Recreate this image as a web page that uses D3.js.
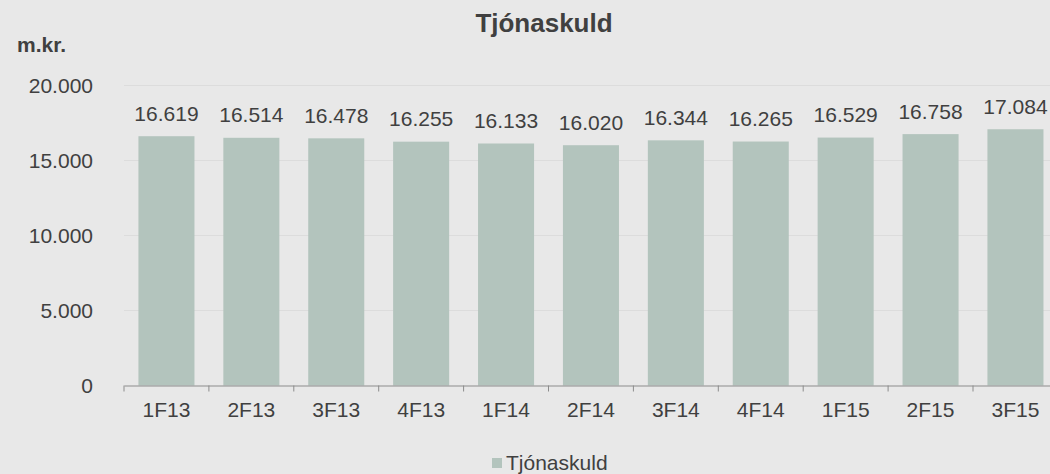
<!DOCTYPE html>
<html>
<head>
<meta charset="utf-8">
<script src="https://cdn.jsdelivr.net/npm/d3@7"></script>
<style>
  body { margin: 0; background: #e8e8e8; }
  svg { display: block; font-family: "Liberation Sans", Arial, sans-serif; }
</style>
</head>
<body>
<div id="chart"></div>
<script>
var quarters = ["1F13", "2F13", "3F13", "4F13", "1F14", "2F14", "3F14", "4F14", "1F15", "2F15", "3F15"];
var claims = [16619, 16514, 16478, 16255, 16133, 16020, 16344, 16265, 16529, 16758, 17084];
var yTicks = [0, 5000, 10000, 15000, 20000];
var seriesName = "Tjónaskuld";

function createChart() {
    var w = 1050;
    var h = 474;
    var left = 124;
    var step = 84.9;
    var textColor = "#404040";

    var fmt = function (v) {
        return d3.format(",")(v).replace(/,/g, ".");
    };

    var svg = d3.select("#chart")
        .append("svg")
        .attr("width", w)
        .attr("height", h);

    svg.append("rect")
        .attr("width", w)
        .attr("height", h)
        .attr("fill", "#e8e8e8");

    var xScale = d3.scaleBand()
        .domain(quarters)
        .range([left, left + step * quarters.length])
        .paddingInner(0.34)
        .paddingOuter(0.17);

    var yScale = d3.scaleLinear()
        .domain([0, 20000])
        .range([385.5, 85.5]);

    /* GRID */
    svg.append("g")
        .selectAll("line")
        .data(yTicks.slice(1))
        .enter()
        .append("line")
        .attr("x1", left)
        .attr("x2", w)
        .attr("y1", d => yScale(d))
        .attr("y2", d => yScale(d))
        .attr("stroke", "#dcdcdc")
        .attr("stroke-width", 1);

    /* BARS */
    svg.selectAll("rect.bar")
        .data(claims)
        .enter()
        .append("rect")
        .attr("class", "bar")
        .attr("x", (d, i) => xScale(quarters[i]))
        .attr("width", xScale.bandwidth())
        .attr("y", d => yScale(d))
        .attr("height", d => yScale(0) - yScale(d))
        .attr("fill", "#b3c4bd");

    /* VALUE LABELS */
    svg.selectAll("text.val")
        .data(claims)
        .enter()
        .append("text")
        .attr("class", "val")
        .attr("x", (d, i) => xScale(quarters[i]) + xScale.bandwidth() / 2)
        .attr("y", d => yScale(d) - 15.5)
        .attr("text-anchor", "middle")
        .attr("font-size", 21)
        .attr("fill", textColor)
        .text(d => fmt(d));

    /* X AXIS */
    var xAxis = d3.axisBottom(xScale).tickSize(0).tickPadding(0);
    var gx = svg.append("g")
        .attr("transform", "translate(0," + yScale(0) + ")")
        .call(xAxis);
    gx.select(".domain").attr("stroke", "#8c8c8c");
    gx.selectAll(".tick text")
        .attr("y", 31.5)
        .attr("dy", null)
        .attr("font-size", 21)
        .attr("font-family", "Liberation Sans, Arial, sans-serif")
        .attr("fill", textColor);
    gx.selectAll(".sep")
        .data(d3.range(quarters.length + 1))
        .enter()
        .append("line")
        .attr("class", "sep")
        .attr("x1", i => left + i * step)
        .attr("x2", i => left + i * step)
        .attr("y1", 0)
        .attr("y2", 6)
        .attr("stroke", "#8c8c8c");

    /* Y AXIS */
    var yAxis = d3.axisLeft(yScale)
        .tickValues(yTicks)
        .tickSize(0)
        .tickPadding(0)
        .tickFormat(fmt);
    var gy = svg.append("g")
        .attr("transform", "translate(93,0)")
        .call(yAxis);
    gy.select(".domain").remove();
    gy.selectAll("text")
        .attr("font-size", 21)
        .attr("font-family", "Liberation Sans, Arial, sans-serif")
        .attr("fill", textColor);

    /* TITLES */
    svg.append("text")
        .attr("x", 544)
        .attr("y", 32)
        .attr("text-anchor", "middle")
        .attr("font-size", 26)
        .attr("font-weight", "bold")
        .attr("fill", textColor)
        .text(seriesName);

    svg.append("text")
        .attr("x", 17)
        .attr("y", 51.5)
        .attr("font-size", 21)
        .attr("font-weight", "bold")
        .attr("fill", textColor)
        .text("m.kr.");

    /* LEGEND */
    svg.append("rect")
        .attr("x", 492)
        .attr("y", 458)
        .attr("width", 10)
        .attr("height", 10)
        .attr("fill", "#b3c4bd");
    svg.append("text")
        .attr("x", 506)
        .attr("y", 470)
        .attr("font-size", 21)
        .attr("fill", textColor)
        .text(seriesName);
}

createChart();
</script>
</body>
</html>
